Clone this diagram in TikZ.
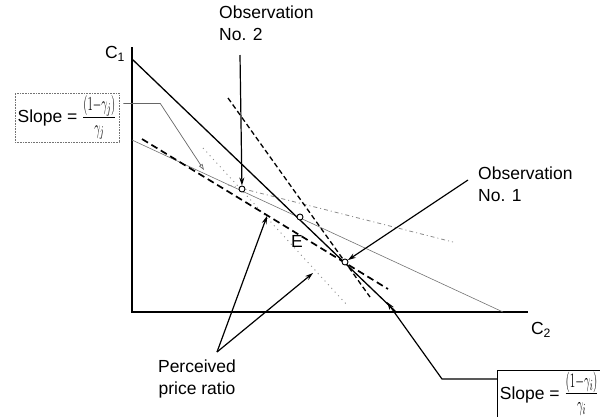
\documentclass[tikz,border=0pt]{standalone}
\usepackage{fontspec}
\setmainfont{Liberation Sans}
\usetikzlibrary{arrows.meta}

\newcommand{\slopefrac}[1]{\raisebox{-0.2ex}{\resizebox{34pt}{29pt}{$\frac{(1{-}\gamma_{#1})}{\gamma_{#1}}$}}}

\tikzset{
	prefs/.style={
			x=1pt, y=-1pt,
			axis/.style={line width=1.2pt},
			budget/.style={line width=1.3pt},
			budgetthin/.style={line width=0.6pt, black!55},
			perceived steep/.style={line width=1.3pt, dash pattern=on 5pt off 3pt},
			perceived flat/.style={line width=1.7pt, dash pattern=on 7pt off 4pt},
			guess steep/.style={line width=0.9pt, black!45, dash pattern=on 1pt off 4pt},
			guess flat/.style={line width=0.8pt, black!45, dash pattern=on 4pt off 3pt on 1pt off 3pt},
			obs/.style={circle, draw, fill=white, line width=0.9pt, minimum size=6pt, inner sep=0pt},
			callout/.style={line width=1.2pt, -{Stealth[length=8pt, width=5pt]}},
			graycallout/.style={line width=0.7pt, black!60, -{Triangle[open, length=6pt, width=4pt]}},
			lbl/.style={font=\fontsize{17.5}{22}\selectfont, inner sep=0pt},
			slopebox/.style={font=\fontsize{17.5}{22}\selectfont, minimum width=104pt, minimum height=47pt, inner sep=2pt},
		}
}

\begin{document}
\begin{tikzpicture}[prefs]
	\clip (0,0) rectangle (600,416);

	\coordinate (origin) at (132,312);
	\coordinate (ytop) at (132,47);
	\coordinate (xend) at (528,312);
	\draw[axis] (ytop) -- (origin) -- (xend);

	\coordinate (bA) at (132,59);
	\coordinate (bB) at (396,312);
	\coordinate (tA) at (132,140);
	\coordinate (tB) at (503,312);
	\coordinate (sA) at (228,98);
	\coordinate (sB) at (370,297);
	\coordinate (fA) at (142,139);
	\coordinate (fB) at (388,289);
	\coordinate (gA) at (203,148);
	\coordinate (gB) at (347,305);
	\coordinate (hA) at (228,185);
	\coordinate (hB) at (453,242);

	\draw[budgetthin] (tA) -- (tB);
	\draw[guess steep] (gA) -- (gB);
	\draw[guess flat] (hA) -- (hB);
	\draw[perceived steep] (sA) -- (sB);
	\draw[perceived flat] (fA) -- (fB);
	\draw[budget] (bA) -- (bB);

	\node[obs] (obstwo) at (242,189) {};
	\node[obs] (eqpt) at (300,217) {};
	\node[obs] (obsone) at (345,262) {};

	\node[lbl] (cone) at (115,54) {C\textsubscript{1}};
	\node[lbl] (ctwo) at (541,330) {C\textsubscript{2}};
	\node[lbl] (elbl) at (297,241) {E};

	\node[lbl, anchor=north west, align=left] (obstwolbl) at (219,6) {Observation\\No. 2};
	\node[lbl, anchor=north west, align=left] (obsonelbl) at (478,167) {Observation\\No. 1};
	\node[lbl, anchor=north, align=center] (perclbl) at (197,360) {Perceived\\price ratio};

	\coordinate (obstwotail) at (240,55);
	\coordinate (obsonetail) at (468,180);
	\draw[callout] (obstwotail) -- (obstwo);
	\draw[callout] (obsonetail) -- (obsone);

	\coordinate (perctail) at (217,352);
	\coordinate (percA) at (267,216);
	\coordinate (percB) at (313,273);
	\draw[callout] (perctail) -- (percA);
	\draw[callout] (perctail) -- (percB);

	\node[slopebox, draw=black!55, densely dotted, line width=0.6pt] (slopej) at (67,117.5)
		{Slope = \slopefrac{j}};
	\coordinate (slopejtip) at (204,170);
	\draw[graycallout] ([xshift=4pt, yshift=14pt]slopej.east) -- ++(37,0) -- (slopejtip);

	\node[slopebox, anchor=north west, minimum height=36pt] (slopei) at (497,370)
		{Slope = \slopefrac{i}};
	\draw[line width=0.9pt] ([yshift=-20pt]slopei.south west) -- (slopei.north west)
		-- (slopei.north east) -- ([yshift=-20pt]slopei.south east);
	\coordinate (slopeibend) at (442,379);
	\coordinate (slopeitip) at (387,302);
	\draw[callout] (slopei.west |- slopeibend) -- (slopeibend) -- (slopeitip);
\end{tikzpicture}
\end{document}
